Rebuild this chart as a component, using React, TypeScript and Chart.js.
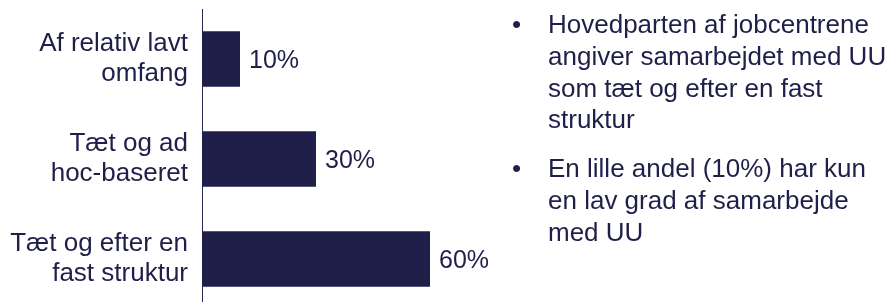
import React, { useEffect, useRef } from "react";
import { Chart, registerables } from "chart.js";

Chart.register(...registerables);

const categories: string[][] = [
  ["Af relativ lavt", "omfang"],
  ["Tæt og ad", "hoc-baseret"],
  ["Tæt og efter en", "fast struktur"],
];
const values: number[] = [10, 30, 60];
const valueLabels: string[] = ["10%", "30%", "60%"];
const bullets: string[][] = [
  ["Hovedparten af jobcentrene", "angiver samarbejdet med UU", "som tæt og efter en fast", "struktur"],
  ["En lille andel (10%) har kun", "en lav grad af samarbejde", "med UU"],
];

const NAVY = "#1f1f4a";
const FONT = "'Liberation Sans', Arial, sans-serif";

export default function App() {
  const ref = useRef<HTMLCanvasElement | null>(null);

  useEffect(() => {
    if (!ref.current) return;
    const valuePlugin = {
      id: "valueLabels",
      afterDatasetsDraw(chart: any) {
        const ctx = chart.ctx;
        const meta = chart.getDatasetMeta(0);
        ctx.save();
        ctx.font = `25px ${FONT}`;
        ctx.fillStyle = NAVY;
        ctx.textAlign = "left";
        ctx.textBaseline = "alphabetic";
        meta.data.forEach((bar: any, i: number) => {
          ctx.fillText(valueLabels[i], bar.x + 9, bar.y + 0.358 * 25);
        });
        ctx.restore();
      },
    };
    const chart = new Chart(ref.current, {
      type: "bar",
      data: {
        labels: categories,
        datasets: [
          {
            data: values,
            backgroundColor: NAVY,
            borderWidth: 0,
            barPercentage: 0.555,
            categoryPercentage: 1,
          },
        ],
      },
      options: {
        indexAxis: "y",
        animation: false,
        responsive: false,
        maintainAspectRatio: false,
        layout: { padding: { top: 9, bottom: 0, left: 0, right: 0 } },
        plugins: { legend: { display: false }, tooltip: { enabled: false } },
        scales: {
          x: { display: false, min: 0, max: 100 },
          y: {
            grid: { display: false, drawTicks: false },
            border: { display: true, color: "#2a2a50", width: 1 },
            ticks: {
              color: NAVY,
              padding: 14,
              font: { family: FONT, size: 26, lineHeight: 30.6 / 26 },
            },
            afterFit(scale: any) {
              scale.width = 202;
              scale.paddingTop = 0;
              scale.paddingBottom = 0;
            },
          },
        },
      },
      plugins: [valuePlugin],
    } as any);
    return () => chart.destroy();
  }, []);

  const bulletTops = [9.1, 153.1];

  return (
    <div
      style={{
        position: "fixed",
        left: 0,
        top: 0,
        width: 895,
        height: 302,
        overflow: "hidden",
        background: "#ffffff",
      }}
    >
      <canvas
        ref={ref}
        width={582}
        height={309}
        style={{ position: "absolute", left: 0, top: 0, width: 582, height: 309 }}
      />
      {bullets.map((lines, bi) => (
        <div
          key={bi}
          style={{
            position: "absolute",
            left: 0,
            top: bulletTops[bi],
            fontFamily: FONT,
            fontSize: 26,
            lineHeight: "31.7px",
            color: NAVY,
            whiteSpace: "nowrap",
          }}
        >
          <span style={{ position: "absolute", left: 512, top: 0 }}>•</span>
          <div style={{ position: "absolute", left: 548, top: 0 }}>
            {lines.map((l, li) => (
              <div key={li}>{l}</div>
            ))}
          </div>
        </div>
      ))}
    </div>
  );
}
